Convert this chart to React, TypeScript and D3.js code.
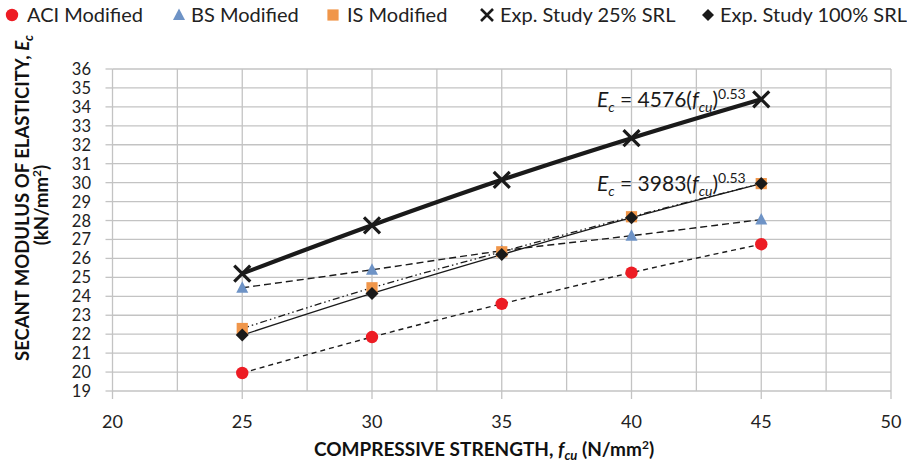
import React from "react";
import * as d3 from "d3";

// values
const strengths = [25, 30, 35, 40, 45];
const aciModified = [19.95, 21.85, 23.6, 25.25, 26.75];
const bsModified = [24.45, 25.4, 26.4, 27.2, 28.05];
const isModified = [22.3, 24.45, 26.35, 28.2, 29.95];
const expStudy25 = [25.2, 27.75, 30.15, 32.35, 34.4];
const expStudy100 = [21.95, 24.15, 26.2, 28.15, 29.95];

const xTicks = [20, 25, 30, 35, 40, 45, 50];
const xGrid = d3.range(20, 50.01, 2.5);
const yTicks = d3.range(19, 37, 1);

const legendLabels = [
  "ACI Modified",
  "BS Modified",
  "IS Modified",
  "Exp. Study 25% SRL",
  "Exp. Study 100% SRL",
];

const W = 907;
const H = 470;
const margin = { top: 69, right: 16, bottom: 79, left: 112.5 };
const FONT = "Lato, 'Open Sans', sans-serif";

const x = d3
  .scaleLinear()
  .domain([20, 50])
  .range([margin.left, W - margin.right]);
const y = d3
  .scaleLinear()
  .domain([19, 36])
  .range([H - margin.bottom, margin.top]);

const line = d3
  .line<[number, number]>()
  .x((d) => x(d[0]))
  .y((d) => y(d[1]))
  .curve(d3.curveMonotoneX);

const pts = (vals: number[]) =>
  strengths.map((s, i) => [s, vals[i]] as [number, number]);

const RED = "#ED1C24";
const BLUE = "#6E93C6";
const ORANGE = "#F0964A";
const BLACK = "#1A1A1A";

const Circle = ({ cx, cy }) => <circle cx={cx} cy={cy} r={6.2} fill={RED} />;
const Tri = ({ cx, cy }) => (
  <path
    d={`M${cx},${cy - 6.5}L${cx + 6},${cy + 5}L${cx - 6},${cy + 5}Z`}
    fill={BLUE}
  />
);
const Sq = ({ cx, cy }) => (
  <rect x={cx - 5.6} y={cy - 5.6} width={11.2} height={11.2} fill={ORANGE} />
);
const Diamond = ({ cx, cy, s = 6.5 }) => (
  <path
    d={`M${cx},${cy - s}L${cx + s},${cy}L${cx},${cy + s}L${cx - s},${cy}Z`}
    fill={BLACK}
  />
);
const Cross = ({ cx, cy, s = 8, w = 3.2 }) => (
  <path
    d={`M${cx - s},${cy - s}L${cx + s},${cy + s}M${cx - s},${cy + s}L${cx + s},${cy - s}`}
    stroke={BLACK}
    strokeWidth={w}
  />
);

const Equation = ({ x0, y0, k }) => (
  <text x={x0} y={y0} fontSize={21} fill={BLACK} fontFamily={FONT}>
    <tspan fontStyle="italic">E</tspan>
    <tspan fontStyle="italic" fontSize={14} dy={5}>
      c
    </tspan>
    <tspan dy={-5}>{` = ${k}(`}</tspan>
    <tspan fontStyle="italic">f</tspan>
    <tspan fontStyle="italic" fontSize={14} dy={5}>
      cu
    </tspan>
    <tspan dy={-5}>)</tspan>
    <tspan fontSize={14} dy={-8}>
      0.53
    </tspan>
  </text>
);

export default function App() {
  const legendX = [12, 179, 333, 487, 708];
  const legendMarkers = [
    <Circle cx={legendX[0]} cy={15} />,
    <Tri cx={legendX[1]} cy={15} />,
    <Sq cx={legendX[2]} cy={15} />,
    <Cross cx={legendX[3]} cy={15} s={6} w={2.6} />,
    <Diamond cx={legendX[4]} cy={15} s={6} />,
  ];
  const textGap = [15, 12, 14, 13, 12];

  return (
    <svg
      width={W}
      height={H}
      style={{ position: "absolute", left: 0, top: 0, background: "#fff" }}
    >
      {/* gridlines */}
      <g stroke="#C3C3C3" strokeWidth={1.3}>
        {yTicks.map((t) => (
          <line key={"h" + t} x1={x(20)} x2={x(50)} y1={y(t)} y2={y(t)} />
        ))}
        {xGrid.map((t) => (
          <line key={"v" + t} x1={x(t)} x2={x(t)} y1={y(36)} y2={y(19)} />
        ))}
        {yTicks.map((t) => (
          <line key={"yt" + t} x1={x(20) - 7} x2={x(20)} y1={y(t)} y2={y(t)} />
        ))}
        {xTicks.map((t) => (
          <line key={"xt" + t} x1={x(t)} x2={x(t)} y1={y(19)} y2={y(19) + 8} />
        ))}
      </g>

      {/* tick labels */}
      <g fontFamily={FONT} fill="#222">
        {yTicks.map((t) => (
          <text key={"yl" + t} x={91} y={y(t) + 6} textAnchor="end" fontSize={16.5}>
            {t}
          </text>
        ))}
        {xTicks.map((t) => (
          <text key={"xl" + t} x={x(t)} y={428} textAnchor="middle" fontSize={18}>
            {t}
          </text>
        ))}
      </g>

      {/* series lines */}
      <g fill="none" stroke={BLACK}>
        <path d={line(pts(aciModified))} strokeWidth={1.4} strokeDasharray="5,4" />
        <path d={line(pts(bsModified))} strokeWidth={1.4} strokeDasharray="7,4" />
        <path
          d={line(pts(isModified))}
          strokeWidth={1.3}
          strokeDasharray="7,3,1.5,3,1.5,3"
        />
        <path d={line(pts(expStudy100))} strokeWidth={1.3} />
        <path d={line(pts(expStudy25))} strokeWidth={4.2} />
      </g>

      {/* markers */}
      {strengths.map((s, i) => (
        <g key={"m" + s}>
          <Circle cx={x(s)} cy={y(aciModified[i])} />
          <Tri cx={x(s)} cy={y(bsModified[i])} />
          <Sq cx={x(s)} cy={y(isModified[i])} />
          <Diamond cx={x(s)} cy={y(expStudy100[i])} />
          <Cross cx={x(s)} cy={y(expStudy25[i])} />
        </g>
      ))}

      {/* equations */}
      <Equation x0={597} y0={106.5} k={4576} />
      <Equation x0={597} y0={190.5} k={3983} />

      {/* legend */}
      {legendLabels.map((lab, i) => (
        <g key={lab}>
          {legendMarkers[i]}
          <text
            x={legendX[i] + textGap[i]}
            y={21.5}
            fontFamily={FONT}
            fontSize={20}
            fill="#222"
          >
            {lab}
          </text>
        </g>
      ))}

      {/* axis titles */}
      <text
        x={484}
        y={456}
        textAnchor="middle"
        fontFamily={FONT}
        fontWeight="bold"
        fontSize={19}
        fill="#111"
      >
        COMPRESSIVE STRENGTH,{" "}
        <tspan fontStyle="italic">f</tspan>
        <tspan fontStyle="italic" fontSize={13} dy={4}>
          cu
        </tspan>
        <tspan dy={-4}> (N/mm</tspan>
        <tspan fontSize={12} dy={-7}>
          2
        </tspan>
        <tspan dy={7}>)</tspan>
      </text>
      <g transform="translate(29,198) rotate(-90)">
        <text
          textAnchor="middle"
          fontFamily={FONT}
          fontWeight="bold"
          fontSize={18.5}
          fill="#111"
        >
          SECANT MODULUS OF ELASTICITY,{" "}
          <tspan fontStyle="italic">E</tspan>
          <tspan fontStyle="italic" fontSize={13} dy={4}>
            c
          </tspan>
        </text>
      </g>
      <g transform="translate(48,205) rotate(-90)">
        <text
          textAnchor="middle"
          fontFamily={FONT}
          fontWeight="bold"
          fontSize={18.5}
          fill="#111"
        >
          (kN/mm
          <tspan fontSize={12} dy={-7}>
            2
          </tspan>
          <tspan dy={7}>)</tspan>
        </text>
      </g>
    </svg>
  );
}
